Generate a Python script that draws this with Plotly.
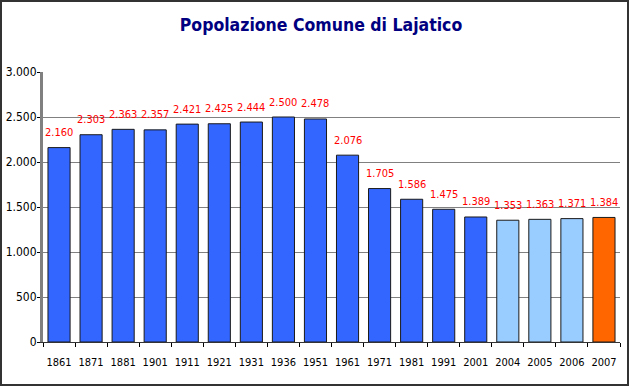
import plotly.graph_objects as go

years = ["1861", "1871", "1881", "1901", "1911", "1921", "1931", "1936", "1951",
         "1961", "1971", "1981", "1991", "2001", "2004", "2005", "2006", "2007"]
population = [2160, 2303, 2363, 2357, 2421, 2425, 2444, 2500, 2478,
              2076, 1705, 1586, 1475, 1389, 1353, 1363, 1371, 1384]
bar_colors = ["#3366FF"] * 14 + ["#99CCFF"] * 3 + ["#FF6600"]
y_ticks = [0, 500, 1000, 1500, 2000, 2500, 3000]
y_tick_labels = ["0", "500", "1.000", "1.500", "2.000", "2.500", "3.000"]

FONT = "DejaVu Sans Condensed, DejaVu Sans"

def fmt(v):
    return f"{v:,}".replace(",", ".")

fig = go.Figure()
fig.add_trace(go.Bar(
    x=years, y=population,
    marker=dict(color=bar_colors, line=dict(color="#1a1a1a", width=1)),
    hoverinfo="x+y",
))

for i, v in enumerate(population):
    fig.add_annotation(x=i, y=v, text=fmt(v), showarrow=False,
                       yshift=15, yanchor="middle",
                       font=dict(family=FONT, size=11, color="#FF0000"))

L, R, T, B = 43, 9, 72, 44
W, H = 629, 386
pw, ph = W - L - R, H - T - B

fig.add_shape(type="rect", xref="paper", yref="paper",
              x0=-(L - 1) / pw, x1=(pw + R - 1) / pw,
              y0=-(B - 1) / ph, y1=(ph + T - 1) / ph,
              line=dict(color="#333333", width=2), layer="above")

fig.update_layout(
    width=W, height=H,
    margin=dict(l=L, r=R, t=T, b=B, autoexpand=False),
    paper_bgcolor="white", plot_bgcolor="white",
    bargap=0.31,
    showlegend=False,
    title=dict(text="<b>Popolazione Comune di Lajatico</b>", x=(321 - L) / pw, xref="paper",
               xanchor="center", y=1 - 25 / H, yanchor="middle",
               font=dict(family=FONT, size=17.5, color="#000080")),
    font=dict(family=FONT, size=11, color="#000000"),
    xaxis=dict(type="category", tickson="boundaries", ticks="outside", ticklen=4,
               tickcolor="#000000", showline=True, linecolor="#333333", linewidth=1,
               showgrid=False, tickangle=0, automargin=False, ticklabelstandoff=10,
               tickfont=dict(family=FONT, size=11, color="#000000"),
               range=[-0.5, len(years) - 0.5]),
    yaxis=dict(range=[0, 3000], tickvals=y_ticks, ticktext=y_tick_labels,
               ticks="outside", ticklen=3, tickcolor="#000000",
               showline=True, linecolor="#808080", linewidth=3,
               showgrid=True, gridcolor="#808080", gridwidth=1,
               zeroline=False, automargin=False, ticklabelstandoff=-2,
               tickfont=dict(family=FONT, size=12, color="#000000")),
)

fig.write_html("out.html", config={"displayModeBar": False},
               post_script="document.body.style.margin='0';")
